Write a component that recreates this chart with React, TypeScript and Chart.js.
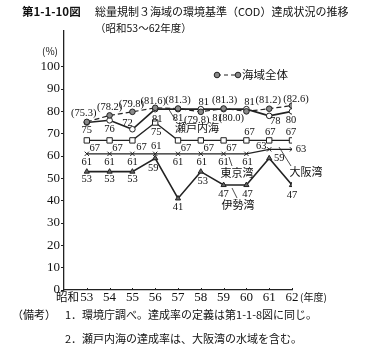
import React, { useEffect, useRef } from 'react';
import { Chart, registerables } from 'chart.js';

Chart.register(...registerables);

// ---- data ----
const YEARS = [53, 54, 55, 56, 57, 58, 59, 60, 61, 62];
const Y_TICKS = [0, 10, 20, 30, 40, 50, 60, 70, 80, 90, 100];
const ZENTAI = [75.3, 78.2, 79.8, 81.6, 81.3, 79.8, 81.3, 80.0, 81.2, 82.6]; // 海域全体
const SETO = [75, 76, 72, 81, 81, 81, 81, 81, 78, 80]; // 瀬戸内海
const OSAKA = [67, 67, 67, 75, 67, 67, 67, 67, 67, 67]; // 大阪湾
const TOKYO = [61, 61, 61, 61, 61, 61, 61, 61, 63, 63]; // 東京湾
const ISE = [53, 53, 53, 59, 41, 53, 47, 47, 59, 47]; // 伊勢湾

// ---- label placement (pixel offsets from each point) ----
const ZENTAI_POS = [[-3, -9], [0, -8], [-1, -8], [-2, -7], [0, -8], [-4, 8], [1, -8], [-15, 7], [-1, -8], [4, -6]];
const SETO_POS = [[0, 8], [0, 9], [-5, -6], [2, 10], [0, 9], [3, -7], [-6, 9], [3, -7], [6, 5], [-1, 9]];
const OSAKA_POS = [[8, 8], [8, 8], [9, 7], [1, 10], [8, 8], [8, 8], [8, 8], [3, -8], [1, -8], [-1, -8]];
const TOKYO_POS = [[0, 8], [0, 8], [0, 8], [1, -8], [0, 8], [1, 8], [0, 8], [1, 8], [-8, -3], [9, 0]];
const ISE_POS = [[0, 8], [0, 8], [0, 8], [-2, 10], [0, 9], [2, 10], [0, 9], [1, 9], [10, 0], [0, 10]];

const INK = '#222';
const SERIF = '"Liberation Serif", "DejaVu Serif", serif';
const JP = '"Noto Sans CJK JP", "Noto Sans", sans-serif';

function pts(vals: number[]) {
  return vals.map((v, i) => ({ x: YEARS[i], y: v }));
}

const textPlugin = {
  id: 'texts',
  afterDatasetsDraw(chart: any) {
    const ctx = chart.ctx as CanvasRenderingContext2D;
    const xs = chart.scales.x;
    const ys = chart.scales.y;
    ctx.save();
    ctx.fillStyle = '#111';
    ctx.textBaseline = 'middle';

    // point value labels
    const specs: [number, number[][], (v: number) => string][] = [
      [0, ZENTAI_POS, (v) => '(' + v.toFixed(1) + ')'],
      [1, SETO_POS, (v) => String(v)],
      [2, OSAKA_POS, (v) => String(v)],
      [3, TOKYO_POS, (v) => String(v)],
      [4, ISE_POS, (v) => String(v)],
    ];
    ctx.font = '10.5px ' + SERIF;
    ctx.textAlign = 'center';
    specs.forEach(([di, pos, fmt]) => {
      const meta = chart.getDatasetMeta(di);
      const data = chart.data.datasets[di].data as any[];
      meta.data.forEach((el: any, i: number) => {
        ctx.fillText(fmt(data[i].y), el.x + pos[i][0], el.y + pos[i][1]);
      });
    });

    // small x tick marks (upward)
    ctx.strokeStyle = INK;
    ctx.lineWidth = 1;
    YEARS.forEach((yr) => {
      const px = Math.round(xs.getPixelForValue(yr)) + 0.5;
      ctx.beginPath();
      ctx.moveTo(px, ys.bottom);
      ctx.lineTo(px, ys.bottom - 2);
      ctx.stroke();
    });

    // series names with leader lines
    const leader = (x1: number, y1: number, x2: number, y2: number) => {
      ctx.beginPath();
      ctx.moveTo(x1, y1);
      ctx.lineTo(x2, y2);
      ctx.stroke();
    };
    ctx.lineWidth = 0.8;
    ctx.font = '11px ' + JP;
    ctx.textAlign = 'center';
    ctx.fillText('瀬戸内海', 197, 128);
    leader(176, 121, 168, 108);
    ctx.fillText('東京湾', 237, 173);
    leader(232, 166, 229, 157);
    ctx.fillText('伊勢湾', 238, 205);
    leader(237, 198, 232, 188);
    ctx.fillText('大阪湾', 306, 172);
    leader(291, 166, 279, 147);

    // legend
    ctx.lineWidth = 1.2;
    ctx.setLineDash([4, 3]);
    leader(217, 75, 238, 75);
    ctx.setLineDash([]);
    [217, 238].forEach((cx) => {
      ctx.beginPath();
      ctx.arc(cx, 75, 2.8, 0, Math.PI * 2);
      ctx.fillStyle = '#8a8a8a';
      ctx.fill();
      ctx.strokeStyle = INK;
      ctx.lineWidth = 1;
      ctx.stroke();
    });
    ctx.fillStyle = '#111';
    ctx.textAlign = 'left';
    ctx.font = '11.5px ' + JP;
    ctx.fillText('海域全体', 242, 75);

    // axis extras
    ctx.font = '10px ' + JP;
    ctx.textAlign = 'center';
    ctx.fillText('(%)', 50, 51);
    ctx.font = '11.5px ' + JP;
    ctx.textAlign = 'right';
    ctx.fillText('昭和', 79, 297);
    ctx.textAlign = 'left';
    ctx.font = '10px ' + JP;
    ctx.fillText('(年度)', 300, 297);

    // title
    ctx.font = 'bold 11.5px ' + JP;
    ctx.fillText('第1-1-10図', 22, 12);
    ctx.font = '11px ' + JP;
    ctx.fillText('総量規制３海域の環境基準（COD）達成状況の推移', 95, 12);
    ctx.font = '10.5px ' + JP;
    ctx.fillText('（昭和53～62年度）', 95, 28);

    // notes
    ctx.font = '11px ' + JP;
    ctx.fillText('（備考）', 12, 315);
    ctx.fillText('1．環境庁調べ。達成率の定義は第1-1-8図に同じ。', 65, 315);
    ctx.fillText('2．瀬戸内海の達成率は、大阪湾の水域を含む。', 65, 339);
    ctx.restore();
  },
};

export default function App() {
  const ref = useRef<HTMLCanvasElement | null>(null);
  useEffect(() => {
    if (!ref.current) return;
    const line = {
      borderColor: INK,
      pointBorderColor: INK,
      borderWidth: 1.4,
      pointBorderWidth: 1,
      tension: 0,
    };
    const chart = new Chart(ref.current, {
      type: 'line',
      data: {
        datasets: [
          { ...line, label: '海域全体', data: pts(ZENTAI), borderDash: [5, 3], pointStyle: 'circle', pointRadius: 2.8, pointBackgroundColor: '#8a8a8a', borderWidth: 1.2 },
          { ...line, label: '瀬戸内海', data: pts(SETO), pointStyle: 'circle', pointRadius: 2.8, pointBackgroundColor: '#fff', borderWidth: 1.6 },
          { ...line, label: '大阪湾', data: pts(OSAKA), pointStyle: 'rect', pointRadius: 3.8, pointBackgroundColor: '#fff' },
          { ...line, label: '東京湾', data: pts(TOKYO), pointStyle: 'crossRot', pointRadius: 3, borderWidth: 1.2 },
          { ...line, label: '伊勢湾', data: pts(ISE), pointStyle: 'triangle', pointRadius: 3, pointBackgroundColor: '#666', borderWidth: 1.6 },
        ],
      },
      options: {
        animation: false,
        responsive: false,
        events: [],
        layout: { padding: { left: 0, top: 31, right: 75, bottom: 55 } },
        plugins: { legend: { display: false }, tooltip: { enabled: false } },
        scales: {
          x: {
            type: 'linear',
            min: 52,
            max: 62,
            afterBuildTicks: (s: any) => { s.ticks = YEARS.map((v) => ({ value: v })); },
            afterFit: (s: any) => { s.height = 18; },
            grid: { display: true, drawOnChartArea: false, drawTicks: false },
            border: { display: true, color: INK, width: 1.3 },
            ticks: { font: { family: SERIF, size: 13 }, color: '#111', padding: 0, maxRotation: 0, autoSkip: false },
          },
          y: {
            min: 0,
            max: 116,
            afterBuildTicks: (s: any) => { s.ticks = Y_TICKS.map((v) => ({ value: v })); },
            afterFit: (s: any) => { s.width = 64; },
            grid: { display: true, drawOnChartArea: false, drawTicks: true, tickLength: 3, color: INK },
            border: { display: true, color: INK, width: 1.3 },
            ticks: { font: { family: SERIF, size: 13 }, color: '#111', padding: 1 },
          },
        },
      },
      plugins: [textPlugin],
    } as any);
    return () => chart.destroy();
  }, []);
  return (
    <div style={{ position: 'fixed', left: 0, top: 0, width: 367, height: 363, background: '#fff' }}>
      <canvas ref={ref} width={367} height={363} />
    </div>
  );
}
